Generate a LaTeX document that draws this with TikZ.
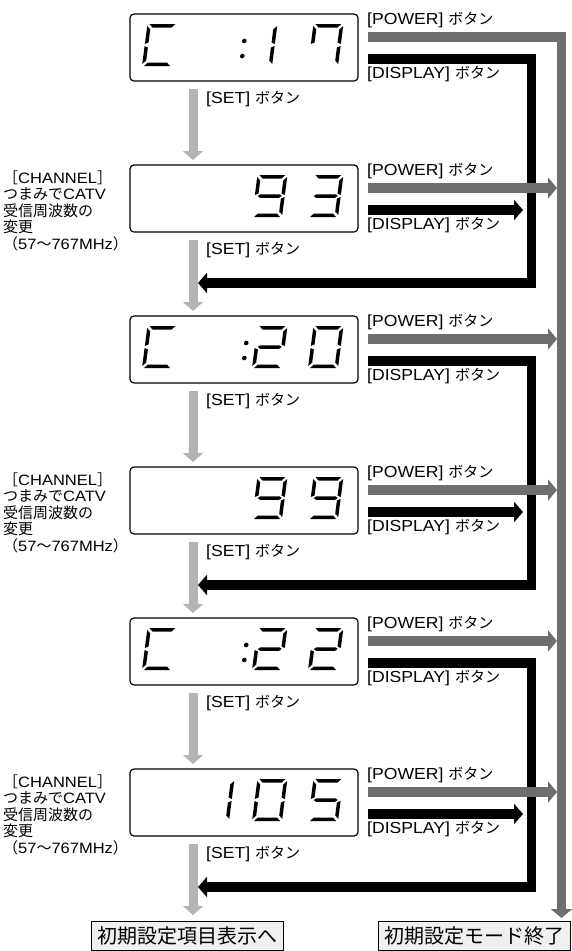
\documentclass[tikz,border=0pt]{standalone}
\usepackage{fontspec}
\setmainfont{Noto Sans CJK JP}
\newfontfamily\latfont[FakeStretch=1.1]{Liberation Sans}
\usetikzlibrary{arrows.meta}

\definecolor{setgray}{HTML}{B4B4B4}
\definecolor{powergray}{HTML}{6E6E6E}

% segments of one LCD digit (30pt x 42pt, origin at the lower left)
\newcommand{\lcdsega}{\fill (2pt,42pt) -- (28pt,42pt) -- (24.5pt,38.5pt) -- (5.5pt,38.5pt) -- cycle;}
\newcommand{\lcdsegb}{\fill (30pt,40pt) -- (30pt,22pt) -- (26.5pt,23.5pt) -- (26.5pt,36.5pt) -- cycle;}
\newcommand{\lcdsegc}{\fill (30pt,20pt) -- (30pt,2pt) -- (26.5pt,5.5pt) -- (26.5pt,18.5pt) -- cycle;}
\newcommand{\lcdsegd}{\fill (2pt,0pt) -- (28pt,0pt) -- (24.5pt,3.5pt) -- (5.5pt,3.5pt) -- cycle;}
\newcommand{\lcdsege}{\fill (0pt,20pt) -- (0pt,2pt) -- (3.5pt,5.5pt) -- (3.5pt,18.5pt) -- cycle;}
\newcommand{\lcdsegf}{\fill (0pt,40pt) -- (0pt,22pt) -- (3.5pt,23.5pt) -- (3.5pt,36.5pt) -- cycle;}
\newcommand{\lcdsegg}{\fill (3pt,21pt) -- (5.5pt,22.75pt) -- (24.5pt,22.75pt) -- (27pt,21pt) -- (24.5pt,19.25pt) -- (5.5pt,19.25pt) -- cycle;}

\newcommand{\lcd}[3]{%
  \begin{scope}[shift={(#1,#2)}, xslant=0.13]
    \foreach \s in {#3} {\csname lcdseg\s\endcsname}
  \end{scope}}
\newcommand{\lcdcolon}[2]{%
  \begin{scope}[shift={(#1,#2)}, xslant=0.13]
    \fill (0pt,10pt) circle (2.3pt) (0pt,25pt) circle (2.3pt);
  \end{scope}}

\newcommand{\btn}[1]{{\latfont\fontsize{16}{16}\selectfont[#1]}\hspace{5pt}ボタン}
\newcommand{\chtext}{［{\latfont CHANNEL}］\\つまみで{\latfont CATV}\\受信周波数の\\変更\\（{\latfont 57}～{\latfont 767MHz}）}

\begin{document}
\begin{tikzpicture}[x=1pt, y=-1pt]
\tikzstyle{lcdbox}=[draw, rounded corners=4pt, line width=1.2pt, minimum width=228pt, minimum height=67pt, inner sep=0pt]
\tikzstyle{setarrow}=[setgray, line width=9pt, -{Triangle[length=9pt, width=20pt]}]
\tikzstyle{powerarrow}=[powergray, line width=9.5pt, -{Triangle[length=9pt, width=21pt]}]
\tikzstyle{displayarrow}=[black, line width=9.5pt, -{Triangle[length=9pt, width=20pt]}]
\tikzstyle{btnlabel}=[inner sep=0pt, font=\fontsize{15}{15}\selectfont]
\tikzstyle{chlabel}=[inner sep=0pt, align=left, font=\fontsize{15}{16.5}\selectfont]
\tikzstyle{endbox}=[draw, fill=gray!12, line width=1pt, inner xsep=6pt, inner ysep=3pt, minimum height=29pt, font=\fontsize{20}{20}\selectfont]

\useasboundingbox (0,0) rectangle (572,951);

% display boxes, labels and SET arrows
\foreach \i in {1,...,6} {
  \pgfmathsetmacro{\ty}{14+151*(\i-1)}
  \node[lcdbox] (d\i) at (244,\ty+33.5) {};
  \coordinate (pw\i) at (368,\ty+23);
  \coordinate (pt\i) at (557,\ty+23);
  \coordinate (ds\i) at (368,\ty+45);
  \coordinate (st\i) at (193,\ty+75);
  \coordinate (se\i) at (193,\ty+146);
  \node[btnlabel, anchor=south west] (lp\i) at (367,\ty+14) {\btn{POWER}};
  \node[btnlabel, anchor=north west] (ld\i) at (367,\ty+52) {\btn{DISPLAY}};
  \node[btnlabel, anchor=west] (ls\i) at (206,\ty+85) {\btn{SET}};
  \draw[setarrow] (st\i) -- (se\i);
}

% channel knob notes
\foreach \i in {2,4,6} {
  \pgfmathsetmacro{\ty}{14+151*(\i-1)}
  \node[chlabel, anchor=north west] (ch\i) at (3,\ty+5.5) {\chtext};
}

% LCD contents
\lcd{142}{66}{a,d,e,f} \lcdcolon{241}{66} \lcd{242}{66}{b,c} \lcd{308}{66}{a,b,c,f}
\lcd{252}{217}{a,b,c,d,f,g} \lcd{308}{217}{a,b,c,d,g}
\lcd{142}{368}{a,d,e,f} \lcdcolon{243}{368} \lcd{252}{368}{a,b,g,e,d} \lcd{308}{368}{a,b,c,d,e,f}
\lcd{252}{519}{a,b,c,d,f,g} \lcd{308}{519}{a,b,c,d,f,g}
\lcd{142}{670}{a,d,e,f} \lcdcolon{243}{670} \lcd{252}{670}{a,b,g,e,d} \lcd{308}{670}{a,b,g,e,d}
\lcd{199}{821}{b,c} \lcd{252}{821}{a,b,c,d,e,f} \lcd{308}{821}{a,f,g,c,d}

% DISPLAY routes
\foreach \i in {1,3,5} {
  \pgfmathsetmacro{\ty}{14+151*(\i-1)}
  \coordinate (dk\i) at (531.5,\ty+269);
  \coordinate (dr\i) at (198,\ty+269);
  \draw[displayarrow] (ds\i) -| (dk\i) -- (dr\i);
}
\foreach \i in {2,4,6} {
  \pgfmathsetmacro{\ty}{14+151*(\i-1)}
  \coordinate (dt\i) at (523,\ty+45);
  \draw[displayarrow] (ds\i) -- (dt\i);
}

% POWER routes
\coordinate (pend) at (561.5,918);
\draw[powerarrow] (pw1) -| (pend);
\foreach \i in {2,...,6} {
  \draw[powerarrow] (pw\i) -- (pt\i);
}

% end states
\node[endbox, anchor=north west] (e1) at (91,921) {初期設定項目表示へ};
\node[endbox, anchor=north west] (e2) at (378,921) {初期設定モード終了};
\end{tikzpicture}
\end{document}
